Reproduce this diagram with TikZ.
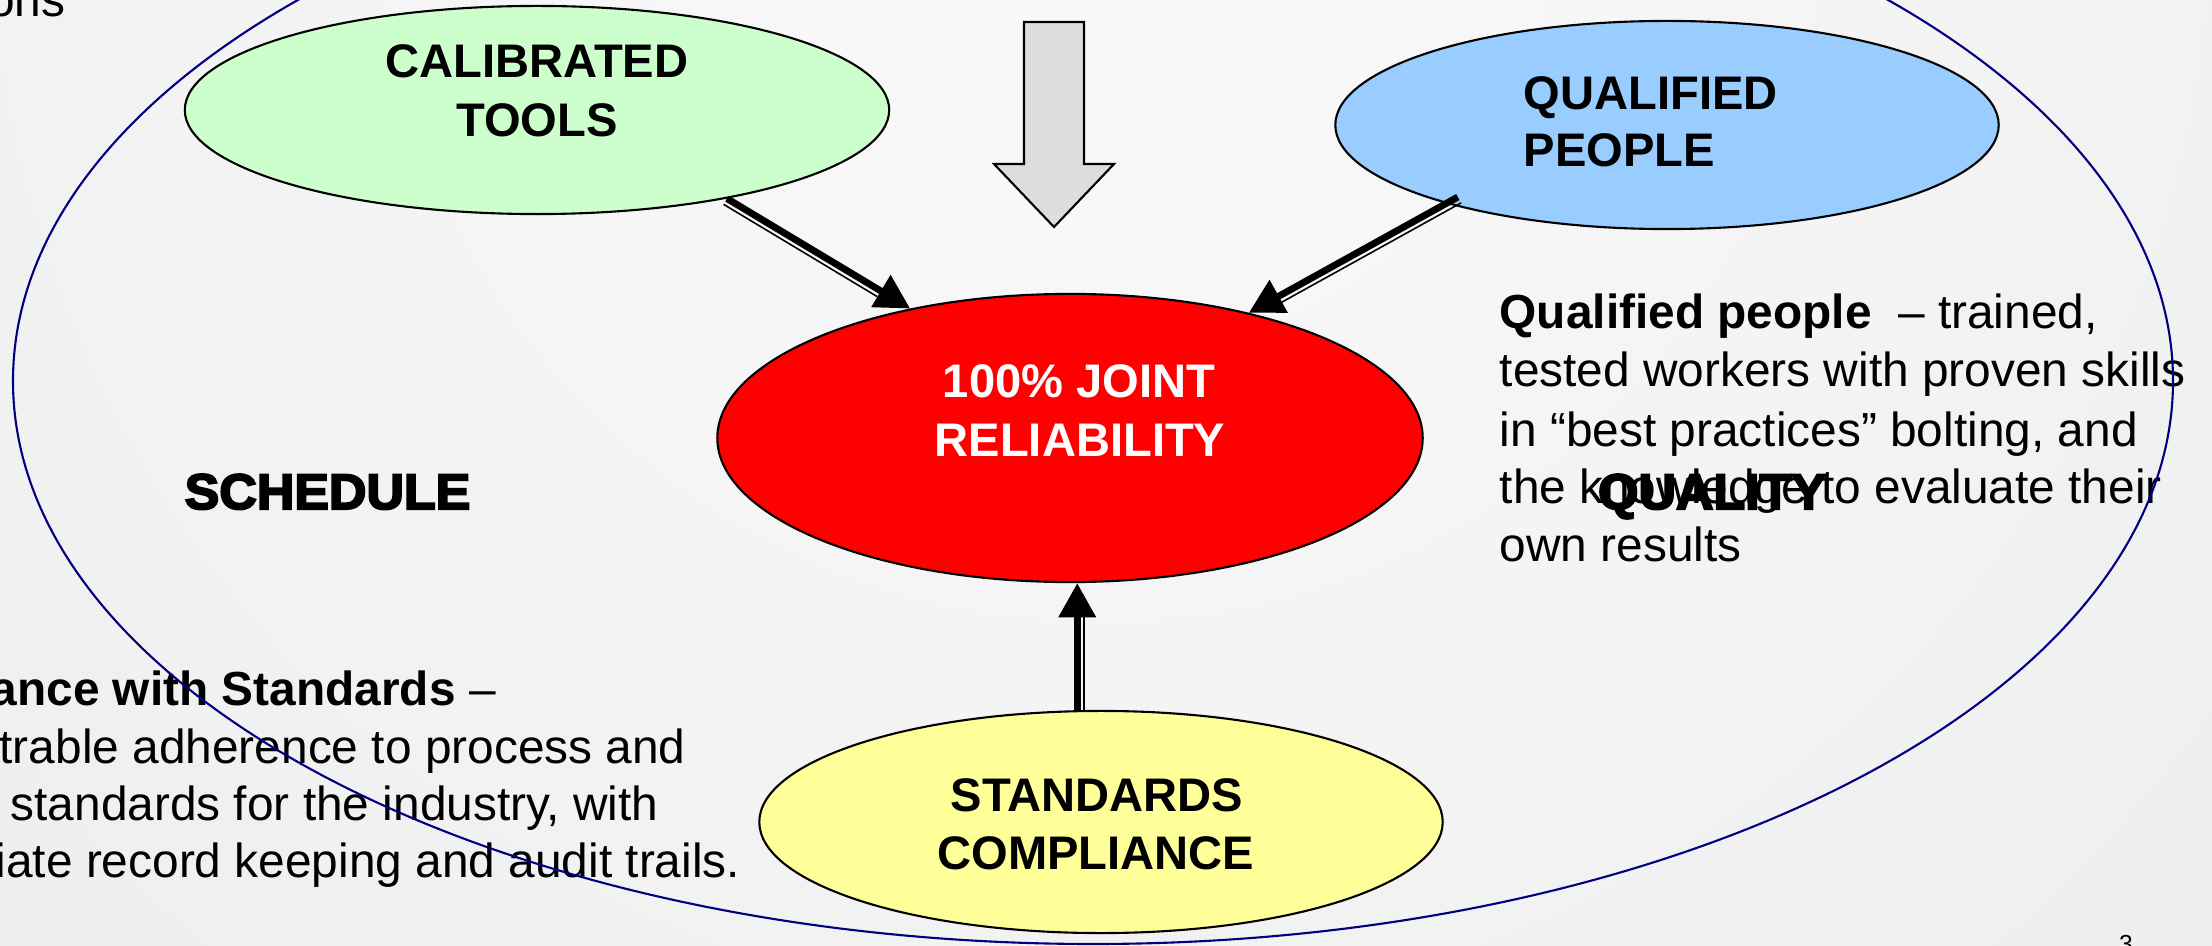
\documentclass[tikz,border=0pt]{standalone}
\usepackage{fontspec}
\setmainfont{Liberation Sans}
\newfontfamily\heavyfont[FakeBold=4,FakeStretch=1.04]{Liberation Sans Bold}
\usetikzlibrary{arrows.meta,calc,shapes.geometric}
\definecolor{navyline}{RGB}{0,0,128}
\definecolor{calgreen}{RGB}{204,255,204}
\definecolor{qualblue}{RGB}{153,204,255}
\definecolor{stdyellow}{RGB}{255,255,153}
\definecolor{arrowgray}{RGB}{221,221,221}
\definecolor{bgin}{RGB}{250,250,250}
\definecolor{bgout}{RGB}{224,224,224}
\begin{document}
\begin{tikzpicture}[x=0.01cm,y=-0.01cm,
  oval/.style={ellipse, draw=black, line width=0.6pt, inner sep=0pt},
  lbl/.style={font=\fontsize{13.4}{16}\selectfont\bfseries, inner sep=0pt, anchor=base},
  body/.style={font=\fontsize{13.6}{16.5}\selectfont, inner sep=0pt, anchor=base west},
  heavy/.style={font=\fontsize{14.2}{17}\selectfont\heavyfont, inner sep=0pt, anchor=base west},
  thickarrow/.style={line width=1.95pt, -{Triangle[length=9.7pt,width=10.2pt]}},
  thinline/.style={line width=0.45pt}]
\useasboundingbox (0,0) rectangle (2212,946);
\begin{scope}
\clip (0,0) rectangle (2212,946);
% background
\shade[inner color=bgin, outer color=bgout] (1100,-100) circle [radius=3400];

% block arrow
\draw[fill=arrowgray, line width=0.6pt] (1024,22) -- (1084,22) -- (1084,164) -- (1114,164)
  -- (1054,227) -- (994,164) -- (1024,164) -- cycle;

% ellipses
\node[oval, fill=calgreen, minimum width=7.04cm, minimum height=2.08cm] (cal) at (537,110) {};
\node[oval, fill=qualblue, minimum width=6.63cm, minimum height=2.08cm] (qual) at (1667,125) {};
\node[oval, fill=red, minimum width=7.05cm, minimum height=2.88cm] (rel) at (1070,438) {};
\node[oval, fill=stdyellow, minimum width=6.83cm, minimum height=2.22cm] (std) at (1101,822) {};

% ellipse labels
\node[lbl] (calA) at (537,78) {CALIBRATED};
\node[lbl] (calB) at (537,137) {TOOLS};
\node[lbl, anchor=base west] (qualA) at (1523,110) {QUALIFIED};
\node[lbl, anchor=base west] (qualB) at (1523,167) {PEOPLE};
\node[lbl, text=white] (relA) at (1079,398) {100\% JOINT};
\node[lbl, text=white] (relB) at (1080,456) {RELIABILITY};
\node[lbl] (stdA) at (1097,811) {STANDARDS};
\node[lbl] (stdB) at (1096,869) {COMPLIANCE};

% connectors
\coordinate (s1) at (cal.-25);
\coordinate (t1) at (rel.141);
\coordinate (h1) at ($(t1)!9.7pt!(s1)$);
\coordinate (s2) at ($(qual.center)!0.93!(qual.199)$);
\coordinate (t2) at (rel.35);
\coordinate (h2) at ($(t2)!9.7pt!(s2)$);
\coordinate (s3) at (std.102);
\coordinate (t3) at (s3 |- rel.south);
\coordinate (h3) at ($(t3)!9.7pt!(s3)$);
\draw[thinline] ($(s1)!1.9pt!-90:(t1)$) -- ($(h1)!1.9pt!-90:(t1)$);
\draw[thinline] ($(s2)!1.9pt!90:(t2)$) -- ($(h2)!1.9pt!90:(t2)$);
\draw[thinline] ($(s3)!1.9pt!-90:(t3)$) -- ($(h3)!1.9pt!-90:(t3)$);
\draw[thickarrow] (s1) -- (t1);
\draw[thickarrow] (s2) -- (t2);
\draw[thickarrow] (s3) -- (t3);

% texts
\node[body, anchor=base east] (ons) at (66,17) {ons};
\node[body] (qp1) at (1499,329) {\textbf{Qualified people}\ \ – trained,};
\node[body] (qp2) at (1499,387) {tested workers with proven skills};
\node[body] (qp3) at (1499,446) {in “best practices” bolting, and};
\node[body] (qp4) at (1499,504) {the knowledge to evaluate their};
\node[body] (qp5) at (1499,561) {own results};
\node[body] (sc1) at (-10,705) {\textbf{ance with Standards} –};
\node[body] (sc2) at (-1,763) {trable adherence to process and};
\node[body] (sc3) at (10,820) {standards for the industry, with};
\node[body] (sc4) at (-5,877) {iate record keeping and audit trails.};
\node[heavy] (sched) at (184,509) {SCHEDULE};
\node[heavy, anchor=base] (qlty) at (1712,509) {QUALITY};
\node[font=\fontsize{7}{8}\selectfont, inner sep=0pt, anchor=north] (pg) at (2126,935) {3};

% outer ellipse
\draw[navyline, line width=0.6pt] (1093,381) ellipse [x radius=1080, y radius=563];
\end{scope}
\end{tikzpicture}
\end{document}
